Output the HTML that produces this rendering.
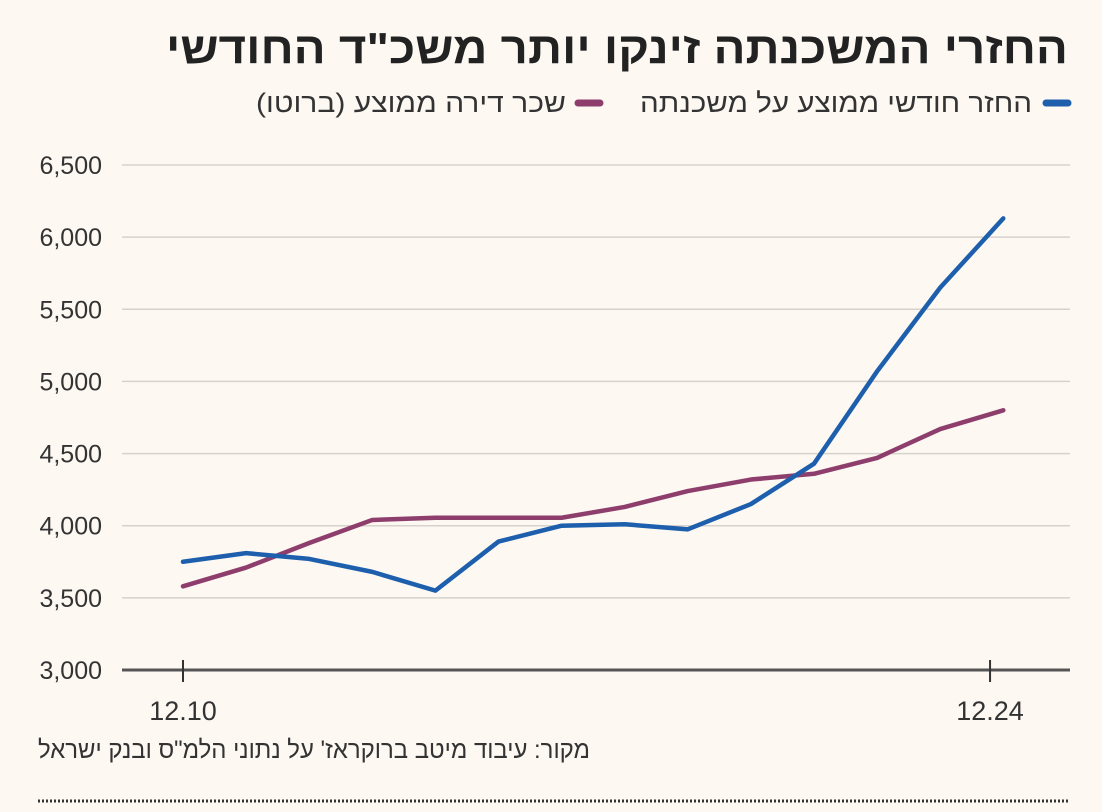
<!DOCTYPE html>
<html><head><meta charset="utf-8"><style>
html,body{margin:0;padding:0;background:#fdf8f2;}
svg{display:block;font-family:"Liberation Sans Narrow","Liberation Sans","DejaVu Sans",sans-serif;}
</style></head><body>
<svg id="chart" width="1102" height="812" viewBox="0 0 1102 812">
<rect width="1102" height="812" fill="#fdf8f2"/>
<text x="1068" y="63" text-anchor="end" font-size="44" font-weight="bold" fill="#222" textLength="902" lengthAdjust="spacingAndGlyphs">החזרי המשכנתה זינקו יותר משכ"ד החודשי</text>
<g>
<line x1="1046" y1="103" x2="1068" y2="103" stroke="#1d5fad" stroke-width="7" stroke-linecap="round"/>
<text x="1032" y="112" text-anchor="end" font-size="27" fill="#333" textLength="392" lengthAdjust="spacingAndGlyphs">החזר חודשי ממוצע על משכנתה</text>
<line x1="578" y1="103" x2="600" y2="103" stroke="#8e3e6c" stroke-width="7" stroke-linecap="round"/>
<text x="566" y="112" text-anchor="end" font-size="27" fill="#333" textLength="310" lengthAdjust="spacingAndGlyphs">שכר דירה ממוצע (ברוטו)</text>
</g>
<g id="grid"></g><g id="yticks"></g><g id="xticks"></g><g id="series"></g>
<text x="590" y="758" text-anchor="end" font-size="25" fill="#333" textLength="552" lengthAdjust="spacingAndGlyphs">מקור: עיבוד מיטב ברוקראז' על נתוני הלמ"ס ובנק ישראל</text>
<line x1="38" y1="801" x2="1070" y2="801" stroke="#333" stroke-width="3" stroke-dasharray="2,2"/>
</svg>
<script>
const yTicks=[3000,3500,4000,4500,5000,5500,6000,6500];
const yTickLabels=["3,000","3,500","4,000","4,500","5,000","5,500","6,000","6,500"];
const xTickIdx=[0,12.79];
const xTickLabels=["12.10","12.24"];
const mortgage=[3750,3810,3770,3680,3550,3890,4000,4010,3975,4150,4430,5070,5650,6130];
const rent=[3580,3710,3880,4040,4055,4055,4055,4130,4240,4320,4360,4470,4670,4800];
const NS="http://www.w3.org/2000/svg";
const X=i=>183+i*63.1;
const Y=v=>670-(v-3000)*(505/3500);
function mk(tag,attrs,parent){const e=document.createElementNS(NS,tag);for(const k in attrs)e.setAttribute(k,attrs[k]);document.getElementById(parent).appendChild(e);return e;}
yTicks.forEach((v,i)=>{
  if(v>3000){const g=mk('line',{x1:122,x2:1070,y1:Y(v),y2:Y(v),stroke:'#d6d2cc','stroke-width':1.5},'grid');
  
  }
  const t=mk('text',{x:102,y:Y(v)+9,'text-anchor':'end','font-size':25,fill:'#333'},'yticks');
  t.textContent=yTickLabels[i];
  
  
});
const ax=mk('line',{x1:122,x2:1070,y1:670,y2:670,stroke:'#555','stroke-width':3},'grid');


xTickIdx.forEach((idx,i)=>{
  const l=mk('line',{x1:X(idx),x2:X(idx),y1:660,y2:682,stroke:'#333','stroke-width':2},'xticks');
  
  
  const t=mk('text',{x:X(idx),y:720,'text-anchor':'middle','font-size':27,fill:'#333'},'xticks');
  t.textContent=xTickLabels[i];
  
  
});
function line(data,color,name){
  const p=mk('polyline',{points:data.map((v,i)=>X(i)+','+Y(v)).join(' '),fill:'none',stroke:color,'stroke-width':4.5,'stroke-linejoin':'round','stroke-linecap':'round'},'series');
  
  
}
line(rent,'#8e3e6c','rent-line');
line(mortgage,'#1d5fad','mortgage-line');
</script>
</body></html>
